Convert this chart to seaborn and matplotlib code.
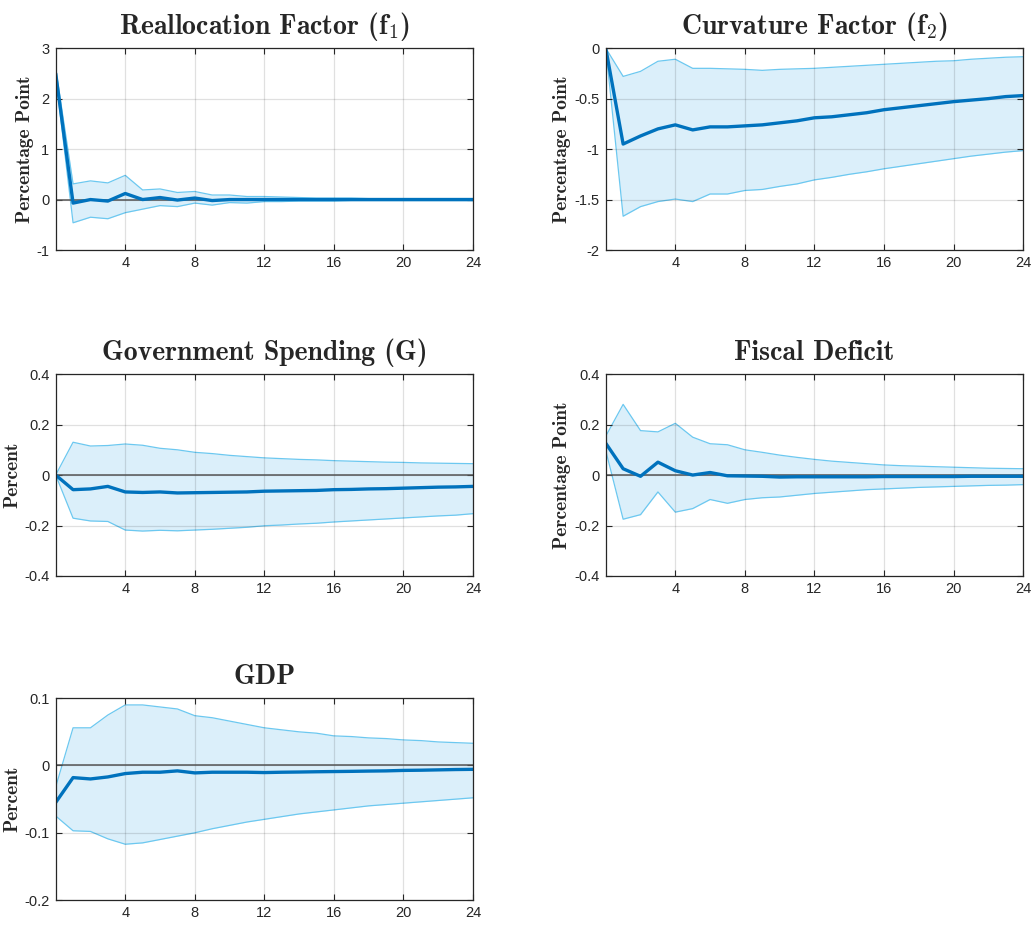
import numpy as np
import pandas as pd
import matplotlib
matplotlib.use("Agg")
import matplotlib.pyplot as plt
import seaborn as sns

# Impulse-response horizons (months)
horizon = list(range(25))

# Reallocation factor f1
f1_mean = [2.50, -0.07, 0.00, -0.03, 0.12, 0.00, 0.04, -0.01, 0.03, -0.02, 0.00, 0.00, 0.00,
           0.00, 0.00, 0.00, 0.00, 0.00, 0.00, 0.00, 0.00, 0.00, 0.00, 0.00, 0.00]
f1_upper = [2.60, 0.31, 0.37, 0.33, 0.48, 0.19, 0.21, 0.14, 0.16, 0.09, 0.09, 0.06, 0.06,
            0.05, 0.04, 0.03, 0.03, 0.03, 0.02, 0.02, 0.02, 0.02, 0.02, 0.02, 0.02]
f1_lower = [2.45, -0.46, -0.35, -0.38, -0.26, -0.19, -0.12, -0.14, -0.07, -0.11, -0.06, -0.07, -0.04,
            -0.04, -0.03, -0.03, -0.03, -0.02, -0.02, -0.02, -0.02, -0.02, -0.02, -0.02, -0.02]

# Curvature factor f2
f2_mean = [0.0, -0.95, -0.87, -0.80, -0.76, -0.81, -0.78, -0.78, -0.77, -0.76, -0.74, -0.72, -0.69,
           -0.68, -0.66, -0.64, -0.61, -0.59, -0.57, -0.55, -0.53, -0.515, -0.50, -0.48, -0.47]
f2_upper = [0.0, -0.28, -0.23, -0.13, -0.11, -0.20, -0.20, -0.205, -0.21, -0.22, -0.21, -0.205, -0.20,
            -0.19, -0.18, -0.17, -0.16, -0.15, -0.14, -0.13, -0.125, -0.11, -0.10, -0.09, -0.085]
f2_lower = [0.0, -1.665, -1.57, -1.52, -1.495, -1.52, -1.445, -1.445, -1.41, -1.40, -1.37, -1.345, -1.305,
            -1.28, -1.25, -1.225, -1.195, -1.17, -1.145, -1.12, -1.095, -1.07, -1.05, -1.03, -1.015]

# Government spending G
g_mean = [0.0, -0.058, -0.055, -0.045, -0.067, -0.069, -0.067, -0.071, -0.070, -0.069, -0.068, -0.067, -0.064,
          -0.063, -0.062, -0.061, -0.058, -0.057, -0.055, -0.054, -0.052, -0.050, -0.048, -0.047, -0.045]
g_upper = [0.0, 0.130, 0.115, 0.117, 0.123, 0.118, 0.106, 0.100, 0.090, 0.085, 0.078, 0.073, 0.068,
           0.065, 0.062, 0.060, 0.057, 0.055, 0.053, 0.051, 0.050, 0.048, 0.047, 0.046, 0.045]
g_lower = [0.0, -0.171, -0.182, -0.184, -0.218, -0.222, -0.219, -0.221, -0.218, -0.215, -0.211, -0.207, -0.201,
           -0.198, -0.194, -0.191, -0.186, -0.182, -0.178, -0.174, -0.170, -0.166, -0.162, -0.159, -0.153]

# Fiscal deficit
fd_mean = [0.126, 0.025, -0.005, 0.051, 0.017, 0.000, 0.010, -0.003, -0.004, -0.005, -0.008, -0.007, -0.007,
           -0.007, -0.007, -0.007, -0.006, -0.006, -0.006, -0.006, -0.006, -0.005, -0.005, -0.005, -0.005]
fd_upper = [0.154, 0.280, 0.176, 0.171, 0.205, 0.150, 0.124, 0.120, 0.100, 0.090, 0.079, 0.070, 0.062,
            0.055, 0.050, 0.045, 0.040, 0.037, 0.035, 0.033, 0.031, 0.029, 0.027, 0.026, 0.025]
fd_lower = [0.097, -0.175, -0.157, -0.067, -0.147, -0.133, -0.097, -0.112, -0.097, -0.090, -0.087, -0.080, -0.073,
            -0.068, -0.063, -0.058, -0.055, -0.052, -0.049, -0.047, -0.045, -0.043, -0.041, -0.040, -0.038]

# GDP
gdp_mean = [-0.055, -0.018, -0.020, -0.017, -0.012, -0.010, -0.010, -0.008, -0.011, -0.010, -0.010, -0.010, -0.0105,
            -0.010, -0.0097, -0.0093, -0.009, -0.0087, -0.0083, -0.008, -0.0073, -0.007, -0.0065, -0.006, -0.0057]
gdp_upper = [-0.032, 0.056, 0.056, 0.075, 0.090, 0.090, 0.087, 0.084, 0.074, 0.071, 0.066, 0.061, 0.056,
             0.053, 0.050, 0.048, 0.044, 0.043, 0.041, 0.040, 0.038, 0.037, 0.035, 0.034, 0.033]
gdp_lower = [-0.075, -0.097, -0.098, -0.109, -0.117, -0.115, -0.110, -0.105, -0.100, -0.094, -0.089, -0.084, -0.080,
             -0.076, -0.072, -0.069, -0.066, -0.063, -0.060, -0.058, -0.056, -0.054, -0.052, -0.050, -0.048]

titles = ["Reallocation Factor (f$_1$)", "Curvature Factor (f$_2$)",
          "Government Spending (G)", "Fiscal Deficit", "GDP"]
ylabels = ["Percentage Point", "Percentage Point", "Percent", "Percentage Point", "Percent"]
yticks = [[-1, 0, 1, 2, 3], [-2, -1.5, -1, -0.5, 0], [-0.4, -0.2, 0, 0.2, 0.4],
          [-0.4, -0.2, 0, 0.2, 0.4], [-0.2, -0.1, 0, 0.1]]
ytick_labels = [["-1", "0", "1", "2", "3"], ["-2", "-1.5", "-1", "-0.5", "0"],
                ["-0.4", "-0.2", "0", "0.2", "0.4"], ["-0.4", "-0.2", "0", "0.2", "0.4"],
                ["-0.2", "-0.1", "0", "0.1"]]
xticks = [4, 8, 12, 16, 20, 24]

series = [(f1_mean, f1_lower, f1_upper), (f2_mean, f2_lower, f2_upper),
          (g_mean, g_lower, g_upper), (fd_mean, fd_lower, fd_upper),
          (gdp_mean, gdp_lower, gdp_upper)]

sns.set_theme(style="white")
plt.rcParams["font.family"] = ["Liberation Sans", "DejaVu Sans"]
plt.rcParams["mathtext.fontset"] = "cm"
plt.rcParams["axes.unicode_minus"] = False

LINE = "#0072BD"
BAND_EDGE = "#6cc8f0"
BAND_FILL = "#dbeffa"

fig = plt.figure(figsize=(10.33, 9.26), dpi=100)
col_left = [0.0539, 0.5864]
row_bottom = [0.730, 0.378, 0.028]
w, h = 0.404, 0.218
positions = [(col_left[0], row_bottom[0]), (col_left[1], row_bottom[0]),
             (col_left[0], row_bottom[1]), (col_left[1], row_bottom[1]),
             (col_left[0], row_bottom[2])]

for i, ((m, lo, up), (x0, y0)) in enumerate(zip(series, positions)):
    ax = fig.add_axes([x0, y0, w, h])
    df = pd.DataFrame({"h": horizon, "mean": m, "lower": lo, "upper": up})
    ax.fill_between(df["h"], df["lower"], df["upper"], color=BAND_FILL, lw=0, zorder=1)
    sns.lineplot(data=df, x="h", y="upper", ax=ax, color=BAND_EDGE, lw=0.9, zorder=2)
    sns.lineplot(data=df, x="h", y="lower", ax=ax, color=BAND_EDGE, lw=0.9, zorder=2)
    ax.axhline(0, color="#555555", lw=1.1, zorder=3)
    sns.lineplot(data=df, x="h", y="mean", ax=ax, color=LINE, lw=2.4, zorder=4)

    ax.set_xlim(0, 24)
    ax.set_ylim(yticks[i][0], yticks[i][-1])
    ax.set_xticks(xticks)
    ax.set_xticklabels([str(t) for t in xticks])
    ax.set_yticks(yticks[i])
    ax.set_yticklabels(ytick_labels[i])
    ax.grid(True, color="#000000", alpha=0.12, lw=0.9, zorder=5)
    ax.set_axisbelow(False)
    ax.tick_params(direction="in", length=4, width=0.8, colors="#262626",
                   labelsize=10.5, top=True, right=True, left=True, bottom=True, pad=4.5)
    for t in ax.get_xticklabels() + ax.get_yticklabels():
        t.set_color("#262626")
    for s in ax.spines.values():
        s.set_color("#262626")
        s.set_linewidth(0.9)
        s.set_zorder(6)
    ax.set_xlabel("")
    ax.set_ylabel(ylabels[i], fontfamily="cmb10", fontsize=14, labelpad=2)
    ax.set_title(titles[i], fontfamily="cmb10", fontsize=20, pad=10)

fig.savefig("out.png", dpi=100)
